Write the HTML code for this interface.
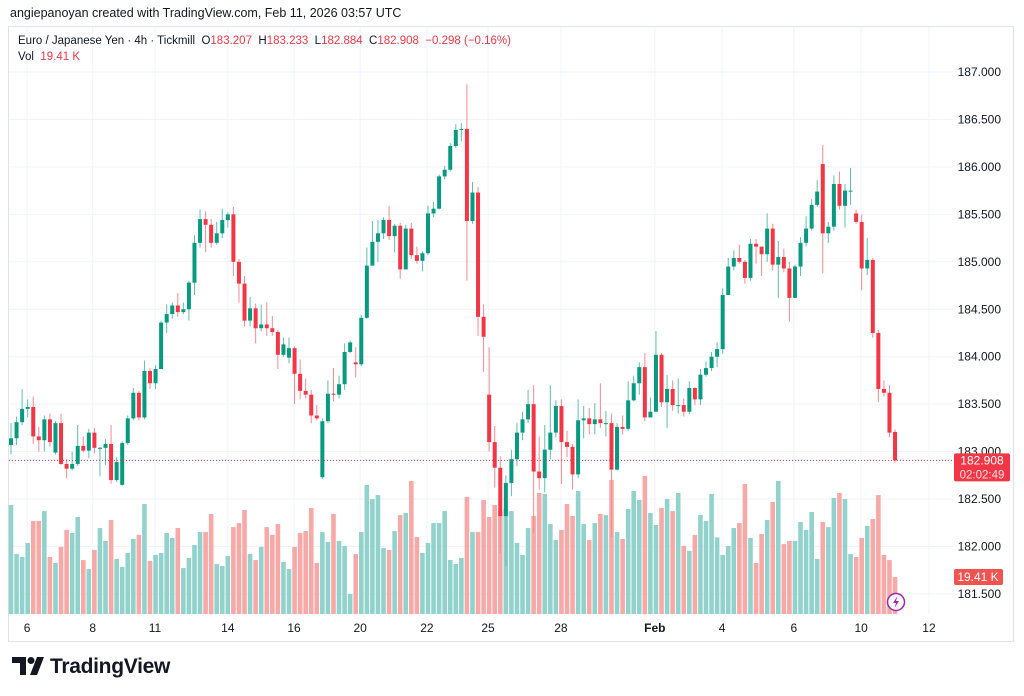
<!DOCTYPE html>
<html><head><meta charset="utf-8">
<style>
html,body{margin:0;padding:0;background:#fff;width:1024px;height:696px;overflow:hidden;font-family:"Liberation Sans",sans-serif;}
#root{position:relative;width:1024px;height:696px;}
.hdr{position:absolute;left:10px;top:6px;font-size:12.5px;color:#131722;}
.legend{position:absolute;left:18px;top:33px;font-size:11.5px;color:#131722;line-height:16px;}
.red{color:#f23645;}
.logo{position:absolute;left:12px;top:655px;font-size:21px;font-weight:bold;color:#131722;letter-spacing:-0.3px;}
</style></head>
<body>
<div id="root">
<div class="hdr">angiepanoyan created with TradingView.com, Feb 11, 2026 03:57 UTC</div>
<svg id="chart" width="1024" height="696" style="position:absolute;left:0;top:0"></svg>
<div class="legend">
<div>Euro / Japanese Yen · 4h · Tickmill&nbsp; O<span class="red">183.207</span>&nbsp; H<span class="red">183.233</span>&nbsp; L<span class="red">182.884</span>&nbsp; C<span class="red">182.908</span>&nbsp; <span class="red">−0.298 (−0.16%)</span></div>
<div>Vol&nbsp; <span class="red">19.41 K</span></div>
</div>
<div class="logo"><svg width="34" height="18" viewBox="0 0 34 18" style="vertical-align:-2px;margin-right:4px"><path d="M0 0h14v18h-6V6H0z" fill="#131722"/><circle cx="19" cy="3.5" r="3.5" fill="#131722"/><path d="M25 0h7l-7 18h-7z" fill="#131722"/></svg>TradingView</div>
</div>
<script>
const opens=[183.07,183.14,183.31,183.45,183.47,183.16,183.12,183.34,182.99,183.30,182.87,182.82,182.87,183.06,183.01,183.20,183.04,183.04,183.08,182.70,182.65,183.09,183.35,183.62,183.36,183.85,183.72,183.87,184.36,184.45,184.54,184.47,184.50,184.78,185.20,185.45,185.39,185.20,185.30,185.44,185.50,185.00,184.77,184.38,184.51,184.30,184.34,184.30,184.26,184.02,183.99,184.09,183.82,183.64,183.60,183.38,182.73,183.32,183.61,183.60,183.71,184.05,183.94,183.92,184.41,184.96,185.21,185.30,185.44,185.27,185.38,184.92,185.35,185.07,185.01,185.09,185.51,185.56,185.90,185.97,186.22,186.39,186.40,185.43,185.73,184.42,183.60,183.10,182.83,182.32,182.67,182.92,183.20,183.34,183.50,182.79,182.72,183.02,183.20,183.48,183.10,183.05,182.76,183.33,183.35,183.29,183.34,183.30,183.30,182.81,183.26,183.24,183.54,183.72,183.89,183.36,183.42,184.02,183.52,183.66,183.49,183.49,183.42,183.67,183.55,183.81,183.88,184.00,184.08,184.65,184.95,185.04,185.00,184.83,185.19,185.16,185.08,185.35,184.97,185.05,184.93,184.62,184.95,185.20,185.35,185.60,186.03,185.30,185.37,185.82,185.59,185.75,185.51,185.42,184.93,185.02,184.25,183.66,183.62,183.207];
const closes=[183.14,183.31,183.45,183.47,183.16,183.12,183.34,183.10,183.30,182.87,182.82,182.87,183.06,183.01,183.20,183.04,183.04,183.08,182.70,182.89,183.09,183.35,183.62,183.36,183.85,183.72,183.87,184.36,184.45,184.54,184.47,184.50,184.78,185.20,185.45,185.39,185.20,185.30,185.44,185.50,185.00,184.77,184.38,184.51,184.30,184.34,184.30,184.26,184.02,184.13,184.09,183.82,183.64,183.60,183.38,183.35,183.32,183.61,183.60,183.71,184.05,184.15,183.92,184.41,184.96,185.21,185.30,185.44,185.27,185.38,184.92,185.35,185.07,185.01,185.09,185.51,185.56,185.90,185.97,186.22,186.39,186.40,185.43,185.73,184.42,184.21,183.10,182.83,182.32,182.67,182.92,183.20,183.34,183.50,182.79,182.72,183.02,183.20,183.48,183.10,183.05,182.76,183.33,183.35,183.29,183.34,183.30,183.30,182.81,183.26,183.24,183.54,183.72,183.89,183.36,183.42,184.02,183.52,183.66,183.49,183.49,183.42,183.67,183.55,183.81,183.88,184.00,184.08,184.65,184.95,185.04,185.00,184.83,185.19,185.16,185.08,185.35,184.97,185.05,184.93,184.62,184.95,185.20,185.35,185.60,185.74,185.30,185.37,185.82,185.59,185.75,185.75,185.42,184.93,185.02,184.25,183.66,183.62,183.20,182.908];
const highs=[183.30,183.37,183.66,183.55,183.58,183.26,183.38,183.40,183.32,183.40,182.92,183.00,183.28,183.16,183.24,183.25,183.05,183.13,183.28,182.94,183.11,183.38,183.67,183.64,183.96,183.88,183.91,184.38,184.55,184.57,184.67,184.57,184.80,185.28,185.55,185.53,185.45,185.42,185.56,185.52,185.58,185.03,184.85,184.63,184.56,184.55,184.57,184.43,184.28,184.20,184.20,184.11,183.97,183.77,183.65,183.49,183.35,183.75,183.88,183.80,184.14,184.17,184.10,184.44,185.15,185.43,185.44,185.47,185.59,185.40,185.41,185.39,185.41,185.16,185.11,185.59,185.63,185.92,186.01,186.25,186.45,186.46,186.87,185.84,185.79,184.55,184.10,183.27,182.95,182.75,183.02,183.30,183.42,183.65,183.70,183.16,183.28,183.70,183.54,183.55,183.22,183.08,183.55,183.48,183.46,183.51,183.72,183.43,183.40,183.30,183.38,183.74,183.80,183.94,184.04,183.57,184.27,184.04,183.81,183.75,183.77,183.56,183.74,183.68,183.87,183.95,184.05,184.15,184.72,185.04,185.12,185.18,185.02,185.24,185.24,185.16,185.51,185.40,185.22,185.14,185.00,184.97,185.26,185.48,185.66,185.86,186.23,185.42,185.91,185.95,185.82,185.99,185.55,185.50,185.25,185.04,184.28,183.75,183.70,183.233];
const lows=[182.97,183.07,183.28,183.36,183.08,183.00,183.00,183.05,182.97,182.86,182.72,182.80,182.85,182.99,182.93,182.98,182.74,182.86,182.66,182.68,182.64,183.07,183.33,183.33,183.34,183.66,183.66,183.87,184.25,184.40,184.42,184.45,184.38,184.65,185.15,185.10,185.15,185.18,185.25,185.36,184.85,184.57,184.32,184.32,184.14,184.27,184.22,184.22,183.87,184.00,183.93,183.50,183.55,183.56,183.30,183.33,182.71,183.30,183.53,183.56,183.65,184.04,183.78,183.90,184.40,184.96,185.00,185.24,185.23,185.10,184.82,184.92,185.03,184.98,184.90,185.07,185.47,185.55,185.87,185.95,186.20,186.27,184.80,185.40,184.22,183.84,183.00,182.62,181.93,181.79,182.53,182.85,183.12,183.30,182.14,182.60,182.57,182.92,183.15,182.66,182.94,182.60,182.72,183.14,183.18,183.18,183.25,183.16,182.10,182.80,183.18,183.22,183.53,183.60,183.32,183.36,183.42,183.47,183.25,183.43,183.40,183.37,183.40,183.49,183.49,183.79,183.85,183.89,184.03,184.83,184.91,184.98,184.77,184.80,184.98,184.85,185.00,184.91,184.62,184.89,184.37,184.62,184.85,185.16,185.33,185.58,184.88,185.20,185.33,185.55,185.36,185.60,185.40,184.70,184.86,184.20,183.52,183.58,183.15,182.884];
const volumes=[57.2,31.5,29.9,37.3,48.8,48.8,54.0,29.9,26.8,35.2,44.1,42.5,50.9,28.3,23.6,33.6,45.1,38.3,49.3,28.9,24.7,32.0,39.4,41.5,57.7,27.8,31.0,32.0,42.5,39.9,45.1,24.1,29.4,36.2,43.0,43.0,52.5,26.2,25.2,30.4,45.6,47.7,54.6,31.5,28.3,35.2,45.6,41.5,47.2,27.3,23.6,35.2,42.5,43.5,55.6,26.8,43.0,37.8,52.5,38.3,35.7,10.5,31.5,43.0,67.7,60.3,62.4,34.6,33.6,43.5,51.9,53.0,69.8,40.4,32.0,37.3,47.7,47.7,54.0,28.3,26.2,29.4,61.4,43.0,43.0,59.8,50.9,57.2,54.0,55.1,54.0,37.3,31.0,45.1,51.4,63.5,63.0,47.2,38.8,44.1,57.7,51.4,64.5,47.2,38.8,47.7,52.5,51.9,70.3,43.0,39.4,55.1,64.5,59.8,72.4,53.0,46.7,55.6,60.3,54.0,63.5,35.7,33.1,41.5,51.9,48.8,63.0,40.2,31.0,35.7,45.1,47.7,68.2,39.9,26.8,42.0,49.3,58.8,69.8,36.7,38.3,38.3,48.3,44.1,53.5,28.9,48.3,45.6,60.9,63.5,60.3,31.5,29.9,39.9,46.2,49.8,62.4,31.0,28.3,19.41];
const priceTicks=[187.0,186.5,186.0,185.5,185.0,184.5,184.0,183.5,183.0,182.5,182.0,181.5];
const timeLabels=["6","8","11","14","16","20","22","25","28","Feb","4","6","10","12"];
const timeLabelIdx=[2.9,14.7,25.9,39.0,50.9,62.8,74.8,85.8,98.9,115.8,127.9,140.8,152.9,165.1];

const svg=document.getElementById('chart');
const NS='http://www.w3.org/2000/svg';
function yP(p){return 72+(187-p)*94.9;}
function xI(i){return 11+i*5.56;}
function yV(v){return 614-v*1.906;}
function mk(tag,attrs,parent){const e=document.createElementNS(NS,tag);for(const k in attrs)e.setAttribute(k,attrs[k]);(parent||svg).appendChild(e);return e;}

const frame=mk('rect',{x:8.5,y:26.5,width:1005,height:615,fill:'none',stroke:'#e0e3eb'});


priceTicks.forEach((p,k)=>{
  const g=mk('line',{x1:9,x2:953,y1:yP(p),y2:yP(p),stroke:'#f0f3fa','stroke-width':1});
  
  
  const t=mk('text',{x:1001,y:yP(p)+4,'text-anchor':'end','font-size':12,fill:'#131722','font-family':'Liberation Sans, sans-serif'});
  t.textContent=p.toFixed(3);
  
  
});
timeLabels.forEach((s,k)=>{
  const x=xI(timeLabelIdx[k]);
  const g=mk('line',{x1:x,x2:x,y1:27,y2:614,stroke:'#f0f3fa','stroke-width':1});
  
  
  const t=mk('text',{x:x,y:632,'text-anchor':'middle','font-size':12,fill:'#131722','font-weight':s==='Feb'?'bold':'normal','font-family':'Liberation Sans, sans-serif'});
  t.textContent=s;
  
  
});
volumes.forEach((v,i)=>{
  const up=closes[i]>=opens[i];
  const b=mk('rect',{x:xI(i)-2.3,y:yV(v),width:4.6,height:614-yV(v),fill:up?'#92d2cc':'#f7a9a7'});
  
  
});
closes.forEach((c,i)=>{
  const o=opens[i],up=c>=o,col=up?'#089981':'#f23645';
  const x=xI(i);
  const w=mk('line',{x1:x,x2:x,y1:yP(highs[i]),y2:yP(lows[i]),stroke:up?'#5fbfae':'#f58a93','stroke-width':1});
  
  
  const top=yP(Math.max(o,c)),bot=yP(Math.min(o,c));
  const b=mk('rect',{x:x-2,y:top,width:4,height:Math.max(1,bot-top),fill:col});
  
  
});
const last=closes[closes.length-1];
const pl=mk('line',{x1:9,x2:953,y1:yP(last),y2:yP(last),stroke:'#f23645','stroke-width':1,'stroke-dasharray':'1 2'});


const pb=mk('rect',{x:954,y:yP(last)-7,width:56,height:28,rx:2,fill:'#f23645'});


const pt=mk('text',{x:982,y:yP(last)+4,'text-anchor':'middle','font-size':12,fill:'#fff','font-family':'Liberation Sans, sans-serif'});
pt.textContent=last.toFixed(3);


const ct=mk('text',{x:982,y:yP(last)+18,'text-anchor':'middle','font-size':11.5,fill:'#fde2e4','font-family':'Liberation Sans, sans-serif'});
ct.textContent='02:02:49';


const lv=volumes[volumes.length-1];
const vb=mk('rect',{x:954,y:yV(lv)-8,width:49,height:16,rx:2,fill:'#f05350'});


const vt=mk('text',{x:978,y:yV(lv)+4,'text-anchor':'middle','font-size':12,fill:'#fff','font-family':'Liberation Sans, sans-serif'});
vt.textContent='19.41 K';


const lc=mk('circle',{cx:896,cy:602,r:8.5,fill:'#fff',stroke:'#9c27b0','stroke-width':1.5});


const lp=mk('path',{d:'M897.5 596 L893 603 L896 603 L894.5 608 L899 601 L896 601 Z',fill:'#9c27b0'});


</script>
</body></html>
